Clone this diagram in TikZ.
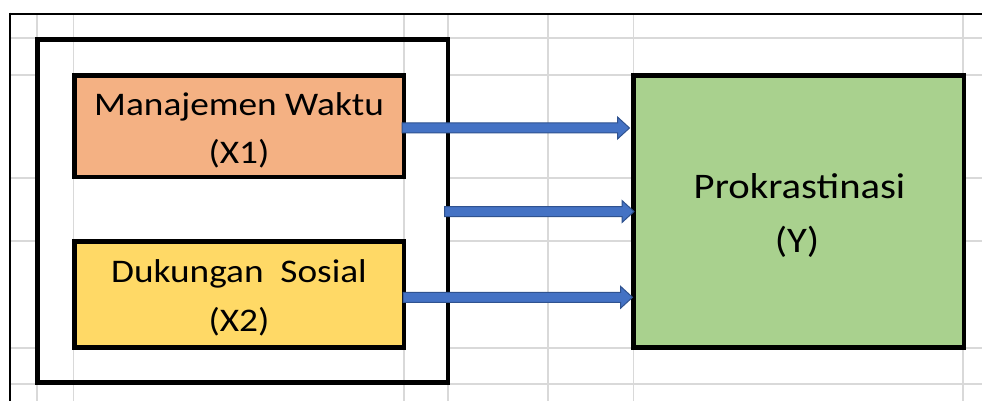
\documentclass[tikz,border=0pt]{standalone}
\usepackage{fontspec}
\setmainfont{Carlito}[FakeStretch=1.13]
\usetikzlibrary{calc}

\definecolor{gridgray}{HTML}{D9D9D9}
\definecolor{boxorange}{HTML}{F4B183}
\definecolor{boxyellow}{HTML}{FFD966}
\definecolor{boxgreen}{HTML}{A9D18E}
\definecolor{arrfill}{HTML}{4472C4}
\definecolor{arrline}{HTML}{2F528F}

\tikzset{
  cellline/.style={draw=gridgray, line width=1.3pt},
  sheetedge/.style={draw=black, line width=2.2pt},
  framebox/.style={draw=black, line width=4.5pt, inner sep=0pt, outer sep=0pt, rectangle},
  smalltext/.style={inner sep=0pt, anchor=base, font=\fontsize{33}{40}\selectfont},
  bigtext/.style={inner sep=0pt, anchor=base, font=\fontsize{36}{44}\selectfont},
  arrowbody/.style={fill=arrfill, draw=arrline, line width=1pt, line join=miter},
}

% block arrow from one named point to another (horizontal)
\newcommand\blockarrow[2]{%
  \draw[arrowbody] let \p1=(#1), \p2=(#2) in
    (\x1,\y1+5pt) -- (\x2-12pt,\y1+5pt) -- (\x2-12pt,\y1+11pt) -- (\x2,\y1)
    -- (\x2-12pt,\y1-11pt) -- (\x2-12pt,\y1-5pt) -- (\x1,\y1-5pt) -- cycle;}

\begin{document}
\begin{tikzpicture}[x=1pt, y=-1pt]
  \useasboundingbox[fill=white] (0,0) rectangle (982,401);

  % spreadsheet cell lines
  \foreach \gx in {37,73.5,404,448,548,633.5,963}
    \draw[cellline] (\gx,13.7) -- (\gx,401);
  \foreach \gy in {38,75,178,241,348,384} {
    \draw[cellline] (10,\gy) -- (37,\gy);
    \draw[cellline] (448,\gy) -- (982,\gy);
  }

  % sheet edges
  \draw[sheetedge] (9,13.7) -- (982,13.7);
  \draw[sheetedge, line width=1.8pt] (10,12.6) -- (10,401);

  % grouping frame around the independent variables
  \node[framebox, minimum width=410.5pt, minimum height=343pt] (grp) at (242.75,211) {};

  % variable boxes
  \node[framebox, fill=boxorange, minimum width=329.5pt, minimum height=101.5pt] (mw) at (239.25,126.25) {};
  \node[framebox, fill=boxyellow, minimum width=329.5pt, minimum height=106pt] (ds) at (239.25,294.5) {};
  \node[framebox, fill=boxgreen, minimum width=330.5pt, minimum height=272pt] (pr) at (798.75,211.5) {};

  % box texts
  \node[smalltext] (mw1) at (239,116) {Manajemen Waktu};
  \node[smalltext] (mw2) at (239,164) {(X1)};
  \node[smalltext] (ds1) at (239,282) {Dukungan~~Sosial};
  \node[smalltext] (ds2) at (239,331) {(X2)};
  \node[bigtext] (pr1) at (799.5,198) {Prokrastinasi};
  \node[bigtext] (pr2) at (797,252) {(Y)};

  % arrow end points
  \coordinate (a1s) at (402,128);   \coordinate (a1e) at (629.5,128);
  \coordinate (a2s) at (444.5,211.5); \coordinate (a2e) at (634,211.5);
  \coordinate (a3s) at (403,297.3); \coordinate (a3e) at (632.5,297.3);

  \blockarrow{a1s}{a1e}
  \blockarrow{a2s}{a2e}
  \blockarrow{a3s}{a3e}
\end{tikzpicture}
\end{document}
